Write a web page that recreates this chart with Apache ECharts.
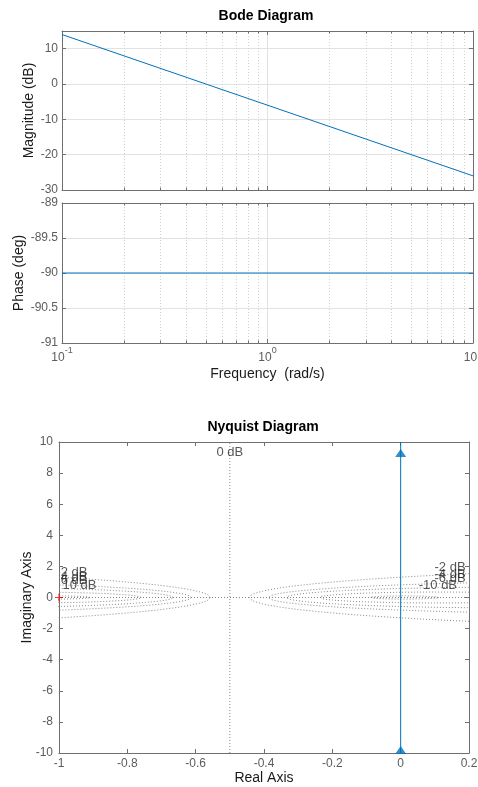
<!DOCTYPE html>
<html>
<head>
<meta charset="utf-8">
<script src="https://cdn.jsdelivr.net/npm/echarts@6/dist/echarts.min.js"></script>
<style>
  html, body { margin: 0; padding: 0; background: #fff; }
  #chart { width: 478px; height: 787px; }
</style>
</head>
<body>
<div id="chart"></div>
<script>
// ---- Bode response at the ends of the plotted band (straight lines on a log axis)
const bodeFreq = [0.1, 10];
const bodeMagDb = [14, -26];
const bodePhaseDeg = [-90, -90];

// Minor decade positions of the log frequency grid
const minorFreqs = [0.2, 0.3, 0.4, 0.5, 0.6, 0.7, 0.8, 0.9, 2, 3, 4, 5, 6, 7, 8, 9];

// ---- Nyquist curve: runs along the imaginary axis
const nyqRe = [0, 0];
const nyqIm = [-10, 10];
const arrowRe = [0, 0];
const arrowIm = [9.3, -9.8];
const criticalPoint = [-1, 0];

// Constant-magnitude circles (dB) of the Nyquist grid, plus their labels
const mCircleDb = [-20, -10, -6, -4, -2, 2, 4, 6, 10, 20];
const mLabelText = ['0 dB', '2 dB', '4 dB', '6 dB', '10 dB', '-2 dB', '-4 dB', '-6 dB', '-10 dB'];
const mLabelX = [-0.5, -0.995, -0.995, -0.995, -0.99, 0.19, 0.19, 0.19, 0.165];
const mLabelY = [9.35, 1.64, 1.32, 1.13, 0.8, 1.96, 1.51, 1.25, 0.8];

const FONT = '"Liberation Sans", Arial, Helvetica, sans-serif';
const AXIS_COLOR = '#6f6f6f';
const LABEL_COLOR = '#5c5c5c';
const TEXT_COLOR = '#1a1a1a';
const CURVE = '#0072BD';
const GRID_MAJOR = '#e2e2e2';
const GRID_MINOR = '#d2d2d2';
const MCIRCLE = '#858585';

// Points of one M-circle: centre -M^2/(M^2-1), radius |M/(M^2-1)|
function mCirclePoints(db) {
  const m = Math.pow(10, db / 20);
  const m2 = m * m;
  const cx = -m2 / (m2 - 1);
  const r = Math.abs(m / (m2 - 1));
  const n = 2880;
  const pts = [];
  for (let i = 0; i <= n; i++) {
    const t = (i / n) * 2 * Math.PI;
    pts.push([cx + r * Math.cos(t), r * Math.sin(t)]);
  }
  return pts;
}

function frameAxis(extra) {
  return Object.assign({
    axisLine: { show: true, onZero: false, lineStyle: { color: AXIS_COLOR, width: 1 } },
    axisTick: { show: true, inside: true, length: 4, lineStyle: { color: AXIS_COLOR } },
    axisLabel: { show: false },
    splitLine: { show: false },
    nameMoveOverlap: false
  }, extra);
}

const tickFont = { color: LABEL_COLOR, fontSize: 12, fontFamily: FONT };
const nameFont = { color: TEXT_COLOR, fontSize: 14, fontFamily: FONT };

// Dotted minor grid (and short minor ticks) for a log frequency axis
function minorGridSeries(xIdx, yIdx, yMin, yMax) {
  return {
    type: 'custom',
    xAxisIndex: xIdx,
    yAxisIndex: yIdx,
    silent: true,
    z: 1,
    data: minorFreqs.map(f => [f, yMin]),
    encode: { x: 0, y: 1 },
    renderItem: function (params, api) {
      const v = api.value(0);
      const a = api.coord([v, yMin]);
      const b = api.coord([v, yMax]);
      const x = Math.round(a[0]) + 0.5;
      return {
        type: 'group',
        children: [
          { type: 'line', shape: { x1: x, y1: a[1], x2: x, y2: b[1] },
            style: { stroke: GRID_MINOR, lineWidth: 1, lineDash: [1, 2] } },
          { type: 'line', shape: { x1: x, y1: a[1], x2: x, y2: a[1] - 2.5 },
            style: { stroke: AXIS_COLOR, lineWidth: 1 } },
          { type: 'line', shape: { x1: x, y1: b[1], x2: x, y2: b[1] + 2.5 },
            style: { stroke: AXIS_COLOR, lineWidth: 1 } }
        ]
      };
    }
  };
}

const chart = echarts.init(document.getElementById('chart'), null, { renderer: 'canvas' });

const series = [
  minorGridSeries(0, 0, -30, 15),
  minorGridSeries(2, 2, -91, -89),
  {
    type: 'line', xAxisIndex: 0, yAxisIndex: 0, z: 3,
    data: bodeFreq.map((f, i) => [f, bodeMagDb[i]]),
    showSymbol: false, lineStyle: { color: CURVE, width: 1 }, silent: true
  },
  {
    type: 'line', xAxisIndex: 2, yAxisIndex: 2, z: 3,
    data: bodeFreq.map((f, i) => [f, bodePhaseDeg[i]]),
    showSymbol: false, lineStyle: { color: CURVE, width: 1 }, silent: true
  }
];

// Nyquist grid: M-circles, the 0 dB line and the real axis
mCircleDb.forEach(db => {
  series.push({
    type: 'line', xAxisIndex: 4, yAxisIndex: 4, z: 1, silent: true,
    data: mCirclePoints(db), showSymbol: false, clip: true,
    lineStyle: { color: MCIRCLE, width: 1, type: [1, 2] }
  });
});
series.push({
  type: 'line', xAxisIndex: 4, yAxisIndex: 4, z: 1, silent: true,
  data: [[-0.5, -10], [-0.5, 10]], showSymbol: false,
  lineStyle: { color: MCIRCLE, width: 1, type: [1, 2] }
});
series.push({
  type: 'line', xAxisIndex: 4, yAxisIndex: 4, z: 1, silent: true,
  data: [[-1, 0], [0.2, 0]], showSymbol: false,
  lineStyle: { color: MCIRCLE, width: 1, type: [1, 2] }
});

// Nyquist curve and its direction arrows
series.push({
  type: 'line', xAxisIndex: 4, yAxisIndex: 4, z: 3, silent: true,
  data: nyqRe.map((r, i) => [r, nyqIm[i]]), showSymbol: false,
  lineStyle: { color: CURVE, width: 1 }
});
series.push({
  type: 'scatter', xAxisIndex: 4, yAxisIndex: 4, z: 4, silent: true,
  data: arrowRe.map((r, i) => [r, arrowIm[i]]),
  symbol: 'triangle', symbolSize: [11, 8],
  itemStyle: { color: CURVE }
});
// Critical point -1 + 0j
series.push({
  type: 'scatter', xAxisIndex: 4, yAxisIndex: 4, z: 5, silent: true,
  data: [criticalPoint],
  symbol: 'path://M3,0H4V3H7V4H4V7H3V4H0V3H3Z', symbolSize: 8,
  itemStyle: { color: '#ff0000' }
});
// M-circle labels
series.push({
  type: 'scatter', xAxisIndex: 4, yAxisIndex: 4, z: 6, silent: true,
  symbolSize: 0,
  data: mLabelText.map((t, i) => ({
    name: t,
    value: [mLabelX[i], mLabelY[i]],
    label: { align: mLabelX[i] < -0.9 ? 'left' : (mLabelX[i] > 0 ? 'right' : 'center') }
  })),
  label: {
    show: true, position: 'inside', formatter: '{b}', verticalAlign: 'middle',
    color: '#2a2a2a', fontSize: 13, fontFamily: FONT
  }
});

const option = {
  animation: false,
  backgroundColor: '#ffffff',
  grid: [
    { left: 62, top: 31, width: 411, height: 159, outerBoundsMode: 'none' },
    { left: 62, top: 203, width: 411, height: 140, outerBoundsMode: 'none' },
    { left: 59, top: 442, width: 410, height: 311, outerBoundsMode: 'none' }
  ],
  graphic: [
    { type: 'text', x: 266, y: 16, silent: true,
      style: { text: 'Bode Diagram', fill: '#000', fontSize: 14, fontWeight: 'bold',
               fontFamily: FONT, align: 'center', verticalAlign: 'middle' } },
    { type: 'text', x: 263, y: 427, silent: true,
      style: { text: 'Nyquist Diagram', fill: '#000', fontSize: 14, fontWeight: 'bold',
               fontFamily: FONT, align: 'center', verticalAlign: 'middle' } }
  ],
  xAxis: [
    frameAxis({ gridIndex: 0, type: 'log', logBase: 10, min: 0.1, max: 10, position: 'bottom',
      splitLine: { show: true, lineStyle: { color: GRID_MAJOR, width: 1 } } }),
    frameAxis({ gridIndex: 0, type: 'log', logBase: 10, min: 0.1, max: 10, position: 'top' }),
    frameAxis({ gridIndex: 1, type: 'log', logBase: 10, min: 0.1, max: 10, position: 'bottom',
      splitLine: { show: true, lineStyle: { color: GRID_MAJOR, width: 1 } },
      name: 'Frequency  (rad/s)', nameLocation: 'middle', nameGap: 24, nameTextStyle: nameFont,
      axisLabel: {
        show: true, margin: 3,
        formatter: v => '{b|10}{s|' + Math.round(Math.log10(v)) + '}',
        rich: {
          b: { fontSize: 12, fontFamily: FONT, color: LABEL_COLOR, lineHeight: 13,
               padding: [6, 0, 0, 0], verticalAlign: 'top' },
          s: { fontSize: 9, fontFamily: FONT, color: LABEL_COLOR, lineHeight: 10,
               verticalAlign: 'top' }
        }
      } }),
    frameAxis({ gridIndex: 1, type: 'log', logBase: 10, min: 0.1, max: 10, position: 'top' }),
    frameAxis({ gridIndex: 2, type: 'value', min: -1, max: 0.2, interval: 0.2, position: 'bottom',
      name: 'Real Axis', nameLocation: 'middle', nameGap: 18, nameTextStyle: nameFont,
      axisLabel: Object.assign({ show: true, margin: 5 }, tickFont) }),
    frameAxis({ gridIndex: 2, type: 'value', min: -1, max: 0.2, interval: 0.2, position: 'top' })
  ],
  yAxis: [
    frameAxis({ gridIndex: 0, type: 'value', min: -30, max: 15, interval: 10, position: 'left',
      splitLine: { show: true, lineStyle: { color: GRID_MAJOR, width: 1 } },
      name: 'Magnitude (dB)', nameLocation: 'middle', nameGap: 26, nameTextStyle: nameFont,
      axisLabel: Object.assign({ show: true, margin: 4,
        formatter: v => (v % 10 === 0 ? String(v) : '') }, tickFont) }),
    frameAxis({ gridIndex: 0, type: 'value', min: -30, max: 15, interval: 10, position: 'right' }),
    frameAxis({ gridIndex: 1, type: 'value', min: -91, max: -89, interval: 0.5, position: 'left',
      splitLine: { show: true, lineStyle: { color: GRID_MAJOR, width: 1 } },
      name: 'Phase (deg)', nameLocation: 'middle', nameGap: 36, nameTextStyle: nameFont,
      axisLabel: Object.assign({ show: true, margin: 4 }, tickFont) }),
    frameAxis({ gridIndex: 1, type: 'value', min: -91, max: -89, interval: 0.5, position: 'right' }),
    frameAxis({ gridIndex: 2, type: 'value', min: -10, max: 10, interval: 2, position: 'left',
      name: 'Imaginary Axis', nameLocation: 'middle', nameGap: 25, nameTextStyle: nameFont,
      axisLabel: Object.assign({ show: true, margin: 6 }, tickFont) }),
    frameAxis({ gridIndex: 2, type: 'value', min: -10, max: 10, interval: 2, position: 'right' })
  ],
  series: series
};

chart.setOption(option);
</script>
</body>
</html>
